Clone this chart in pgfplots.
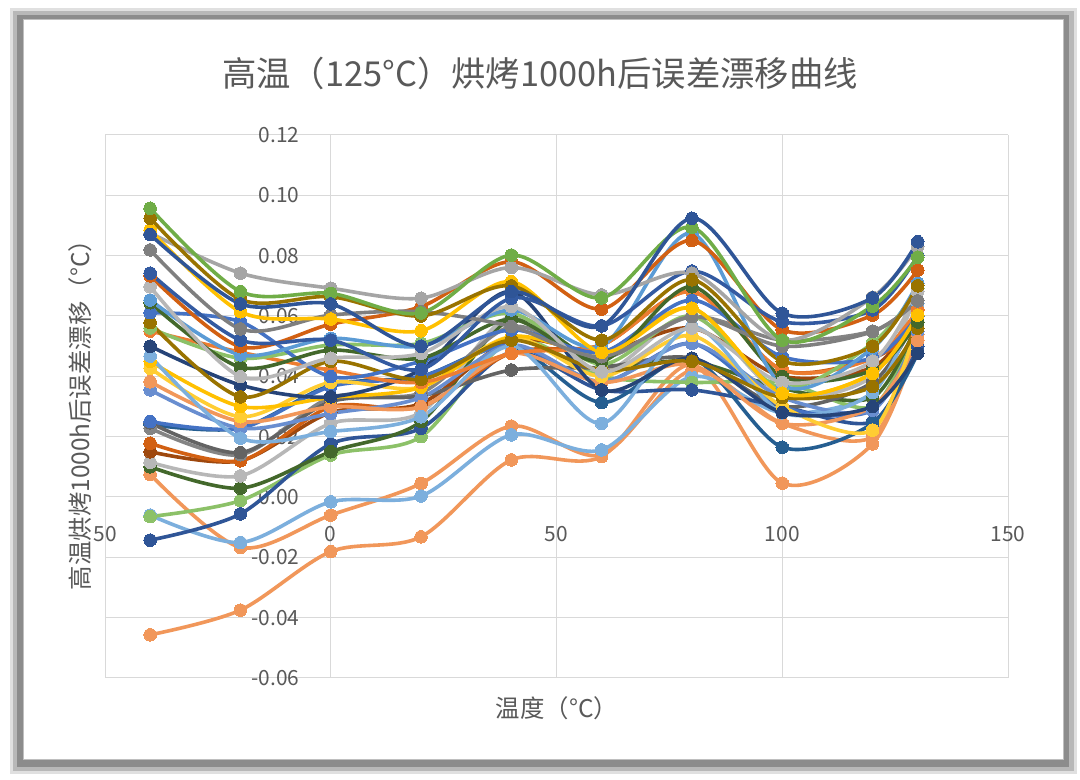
\documentclass[border=0pt]{standalone}
\usepackage{fontspec}
\setmainfont{Noto Sans CJK SC}
\usepackage{pgfplots}
\pgfplotsset{compat=1.18}
\definecolor{c1}{HTML}{70AD47}
\definecolor{c2}{HTML}{997300}
\definecolor{c3}{HTML}{FFC000}
\definecolor{c4}{HTML}{2F5597}
\definecolor{c5}{HTML}{A5A5A5}
\definecolor{c6}{HTML}{7F7F7F}
\definecolor{c7}{HTML}{335AA1}
\definecolor{c8}{HTML}{D26012}
\definecolor{c9}{HTML}{B7B7B7}
\definecolor{c10}{HTML}{5B9BD5}
\definecolor{c11}{HTML}{43682B}
\definecolor{c12}{HTML}{4472C4}
\definecolor{c13}{HTML}{997300}
\definecolor{c14}{HTML}{8CC168}
\definecolor{c15}{HTML}{ED7D31}
\definecolor{c16}{HTML}{7CAFDD}
\definecolor{c17}{HTML}{FFCD33}
\definecolor{c18}{HTML}{F1975A}
\definecolor{c19}{HTML}{698ED0}
\definecolor{c20}{HTML}{636363}
\definecolor{c21}{HTML}{848484}
\definecolor{c22}{HTML}{D26012}
\definecolor{c23}{HTML}{9E480E}
\definecolor{c24}{HTML}{B7B7B7}
\definecolor{c25}{HTML}{43682B}
\definecolor{c26}{HTML}{255E91}
\definecolor{c27}{HTML}{2F5597}
\definecolor{c28}{HTML}{8CC168}
\definecolor{c29}{HTML}{7CAFDD}
\definecolor{c30}{HTML}{F1975A}
\definecolor{c31}{HTML}{F1975A}
\definecolor{c32}{HTML}{264478}
\definecolor{c33}{HTML}{FFC000}
\definecolor{c34}{HTML}{4472C4}
\definecolor{txt}{HTML}{595959}
\pgfplotsset{ser/.style={color=#1, line width=3.6bp, smooth, mark=*, mark size=6.3bp, mark options={fill=#1, draw=#1, line width=0pt}}}
\begin{document}
\begin{tikzpicture}
\fill[black!12] (10bp,6bp) rectangle (1077bp,772bp);
\fill[black!28] (13bp,9bp) rectangle (1074bp,769bp);
\fill[black!45] (17bp,13bp) rectangle (1069bp,765bp);
\fill[white] (23bp,20bp) rectangle (1063bp,760bp);
\draw[black!25, line width=1bp] (23bp,20bp) rectangle (1063bp,760bp);
\begin{axis}[at={(105bp,102bp)}, anchor=south west, width=903bp, height=543bp, scale only axis,
  xmin=-50, xmax=150, ymin=-0.06, ymax=0.12,
  axis lines=middle, axis line style={-, draw=black!30, line width=1bp},
  xtick={-50,0,50,100,150}, xticklabels={50,0,50,100,150},
  ytick={-0.06,-0.04,-0.02,0,0.02,0.04,0.06,0.08,0.10,0.12},
  extra x ticks={0}, extra x tick labels={0},
  extra y ticks={0}, extra y tick labels={0.00},
  extra tick style={grid=major, major tick length=0pt},
  scaled y ticks=false,
  grid=major, major grid style={draw=black!15, line width=1bp},
  major tick length=0pt,
  tick label style={font=\fontsize{21}{25}\selectfont, text=txt},
  /pgf/number format/assume math mode=true,
  yticklabel style={/pgf/number format/fixed, /pgf/number format/fixed zerofill, /pgf/number format/precision=2, anchor=east, xshift=-28bp},
  xticklabel style={anchor=north, yshift=-26bp},
]
\addplot[ser=c31] coordinates {(-40,-0.0457)(-20,-0.0375)(0,-0.0181)(20,-0.0132)(40,0.0123)(60,0.0134)(80,0.0438)(100,0.0046)(120,0.0176)(130,0.0518)};
\addplot[ser=c30] coordinates {(-40,0.0075)(-20,-0.0167)(0,-0.0060)(20,0.0045)(40,0.0235)(60,0.0140)(80,0.0420)(100,0.0244)(120,0.0200)(130,0.0540)};
\addplot[ser=c29] coordinates {(-40,-0.0060)(-20,-0.0151)(0,-0.0016)(20,0.0003)(40,0.0206)(60,0.0156)(80,0.0399)(100,0.0279)(120,0.0346)(130,0.0642)};
\addplot[ser=c28] coordinates {(-40,-0.0065)(-20,-0.0012)(0,0.0139)(20,0.0200)(40,0.0520)(60,0.0400)(80,0.0380)(100,0.0380)(120,0.0300)(130,0.0580)};
\addplot[ser=c27] coordinates {(-40,-0.0143)(-20,-0.0056)(0,0.0176)(20,0.0228)(40,0.0480)(60,0.0355)(80,0.0355)(100,0.0300)(120,0.0250)(130,0.0500)};
\addplot[ser=c26] coordinates {(-40,0.0240)(-20,0.0228)(0,0.0370)(20,0.0400)(40,0.0500)(60,0.0313)(80,0.0460)(100,0.0165)(120,0.0244)(130,0.0476)};
\addplot[ser=c25] coordinates {(-40,0.0100)(-20,0.0029)(0,0.0150)(20,0.0250)(40,0.0589)(60,0.0440)(80,0.0450)(100,0.0360)(120,0.0330)(130,0.0580)};
\addplot[ser=c24] coordinates {(-40,0.0115)(-20,0.0070)(0,0.0244)(20,0.0280)(40,0.0600)(60,0.0415)(80,0.0600)(100,0.0340)(120,0.0400)(130,0.0681)};
\addplot[ser=c23] coordinates {(-40,0.0150)(-20,0.0120)(0,0.0280)(20,0.0310)(40,0.0520)(60,0.0480)(80,0.0560)(100,0.0400)(120,0.0430)(130,0.0600)};
\addplot[ser=c22] coordinates {(-40,0.0178)(-20,0.0120)(0,0.0299)(20,0.0299)(40,0.0478)(60,0.0504)(80,0.0681)(100,0.0421)(120,0.0460)(130,0.0559)};
\addplot[ser=c21] coordinates {(-40,0.0228)(-20,0.0140)(0,0.0330)(20,0.0345)(40,0.0565)(60,0.0460)(80,0.0598)(100,0.0520)(120,0.0550)(130,0.0650)};
\addplot[ser=c20] coordinates {(-40,0.0246)(-20,0.0147)(0,0.0316)(20,0.0335)(40,0.0421)(60,0.0430)(80,0.0460)(100,0.0300)(120,0.0380)(130,0.0600)};
\addplot[ser=c34] coordinates {(-40,0.0250)(-20,0.0228)(0,0.0366)(20,0.0399)(40,0.0504)(60,0.0382)(80,0.0509)(100,0.0300)(120,0.0288)(130,0.0548)};
\addplot[ser=c19] coordinates {(-40,0.0355)(-20,0.0228)(0,0.0277)(20,0.0330)(40,0.0504)(60,0.0382)(80,0.0509)(100,0.0330)(120,0.0288)(130,0.0548)};
\addplot[ser=c18] coordinates {(-40,0.0382)(-20,0.0250)(0,0.0299)(20,0.0299)(40,0.0476)(60,0.0380)(80,0.0438)(100,0.0244)(120,0.0300)(130,0.0518)};
\addplot[ser=c17] coordinates {(-40,0.0427)(-20,0.0266)(0,0.0380)(20,0.0364)(40,0.0531)(60,0.0400)(80,0.0535)(100,0.0300)(120,0.0222)(130,0.0580)};
\addplot[ser=c33] coordinates {(-40,0.0450)(-20,0.0300)(0,0.0330)(20,0.0364)(40,0.0531)(60,0.0480)(80,0.0626)(100,0.0344)(120,0.0410)(130,0.0600)};
\addplot[ser=c16] coordinates {(-40,0.0467)(-20,0.0195)(0,0.0217)(20,0.0266)(40,0.0500)(60,0.0244)(80,0.0565)(100,0.0279)(120,0.0346)(130,0.0642)};
\addplot[ser=c32] coordinates {(-40,0.0500)(-20,0.0371)(0,0.0332)(20,0.0423)(40,0.0681)(60,0.0355)(80,0.0460)(100,0.0280)(120,0.0300)(130,0.0476)};
\addplot[ser=c15] coordinates {(-40,0.0550)(-20,0.0480)(0,0.0420)(20,0.0380)(40,0.0476)(60,0.0504)(80,0.0681)(100,0.0421)(120,0.0460)(130,0.0620)};
\addplot[ser=c14] coordinates {(-40,0.0560)(-20,0.0460)(0,0.0504)(20,0.0509)(40,0.0609)(60,0.0440)(80,0.0600)(100,0.0360)(120,0.0510)(130,0.0690)};
\addplot[ser=c13] coordinates {(-40,0.0578)(-20,0.0332)(0,0.0450)(20,0.0390)(40,0.0520)(60,0.0420)(80,0.0450)(100,0.0330)(120,0.0366)(130,0.0560)};
\addplot[ser=c12] coordinates {(-40,0.0611)(-20,0.0581)(0,0.0399)(20,0.0450)(40,0.0554)(60,0.0480)(80,0.0653)(100,0.0465)(120,0.0460)(130,0.0600)};
\addplot[ser=c11] coordinates {(-40,0.0644)(-20,0.0430)(0,0.0487)(20,0.0460)(40,0.0589)(60,0.0450)(80,0.0697)(100,0.0400)(120,0.0420)(130,0.0580)};
\addplot[ser=c10] coordinates {(-40,0.0653)(-20,0.0471)(0,0.0526)(20,0.0500)(40,0.0620)(60,0.0500)(80,0.0874)(100,0.0371)(120,0.0493)(130,0.0708)};
\addplot[ser=c9] coordinates {(-40,0.0697)(-20,0.0399)(0,0.0460)(20,0.0476)(40,0.0631)(60,0.0415)(80,0.0560)(100,0.0380)(120,0.0450)(130,0.0681)};
\addplot[ser=c8] coordinates {(-40,0.0733)(-20,0.0498)(0,0.0573)(20,0.0631)(40,0.0780)(60,0.0623)(80,0.0850)(100,0.0554)(120,0.0603)(130,0.0752)};
\addplot[ser=c7] coordinates {(-40,0.0742)(-20,0.0520)(0,0.0520)(20,0.0423)(40,0.0659)(60,0.0567)(80,0.0749)(100,0.0581)(120,0.0620)(130,0.0800)};
\addplot[ser=c6] coordinates {(-40,0.0819)(-20,0.0557)(0,0.0603)(20,0.0614)(40,0.0565)(60,0.0465)(80,0.0598)(100,0.0500)(120,0.0548)(130,0.0650)};
\addplot[ser=c5] coordinates {(-40,0.0875)(-20,0.0742)(0,0.0692)(20,0.0659)(40,0.0761)(60,0.0670)(80,0.0742)(100,0.0520)(120,0.0662)(130,0.0830)};
\addplot[ser=c3] coordinates {(-40,0.0885)(-20,0.0614)(0,0.0590)(20,0.0551)(40,0.0714)(60,0.0480)(80,0.0626)(100,0.0344)(120,0.0410)(130,0.0603)};
\addplot[ser=c2] coordinates {(-40,0.0924)(-20,0.0655)(0,0.0664)(20,0.0600)(40,0.0700)(60,0.0520)(80,0.0720)(100,0.0450)(120,0.0500)(130,0.0700)};
\addplot[ser=c1] coordinates {(-40,0.0957)(-20,0.0681)(0,0.0675)(20,0.0610)(40,0.0802)(60,0.0660)(80,0.0894)(100,0.0520)(120,0.0633)(130,0.0795)};
\addplot[ser=c4] coordinates {(-40,0.0870)(-20,0.0640)(0,0.0640)(20,0.0500)(40,0.0681)(60,0.0567)(80,0.0924)(100,0.0609)(120,0.0660)(130,0.0846)};
\end{axis}
\node[text=txt, font=\fontsize{34.5}{40}\selectfont] at (540bp,707bp) {高温（125°C）烘烤1000h后误差漂移曲线};
\node[text=txt, font=\fontsize{24.5}{28}\selectfont] at (557bp,72bp) {温度（°C）};
\node[text=txt, font=\fontsize{24.5}{28}\selectfont, rotate=90] at (80bp,371bp) {高温烘烤1000h后误差漂移（°C）};
\pgfresetboundingbox
\path[use as bounding box] (0,0) rectangle (1080bp,780bp);
\end{tikzpicture}
\end{document}
